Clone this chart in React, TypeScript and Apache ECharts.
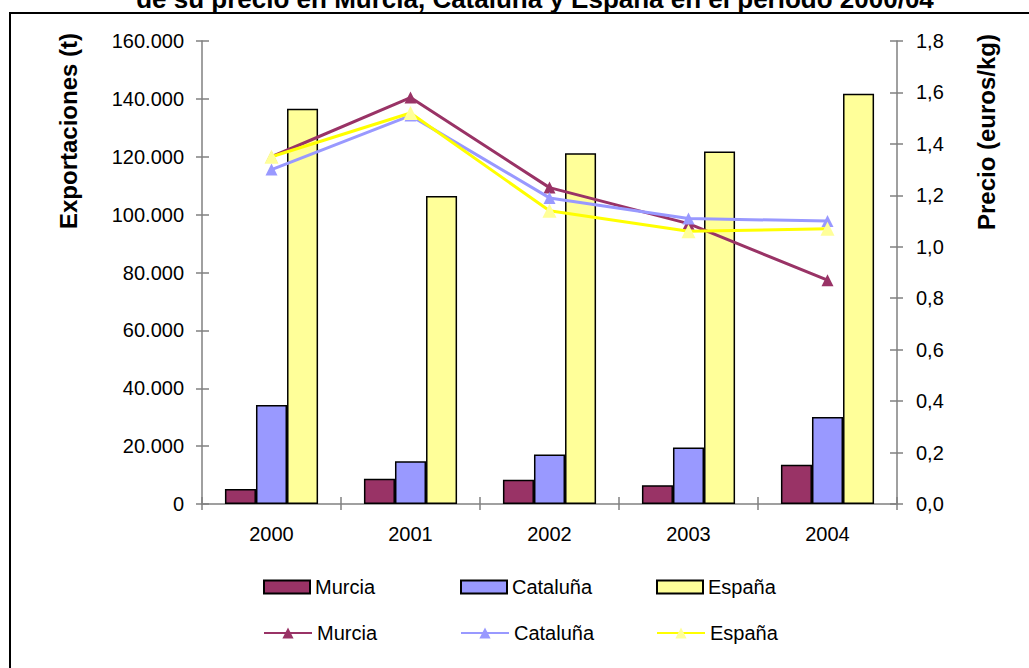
import React, { useEffect, useRef } from "react";
import * as echarts from "echarts";

const years = ["2000", "2001", "2002", "2003", "2004"];
const murciaExport = [5200, 8700, 8400, 6500, 13600];
const catalunaExport = [34200, 14800, 17100, 19500, 30100];
const espanaExport = [136600, 106400, 121200, 121800, 141800];
const murciaPrice = [1.35, 1.58, 1.23, 1.09, 0.87];
const catalunaPrice = [1.3, 1.51, 1.19, 1.11, 1.1];
const espanaPrice = [1.35, 1.52, 1.14, 1.06, 1.07];
const regionNames = ["Murcia", "Cataluña", "España"];
const titleText = "de su precio en Murcia, Cataluña y España en el periodo 2000/04";
const leftAxisName = "Exportaciones (t)";
const rightAxisName = "Precio (euros/kg)";

const FONT = "'Liberation Sans', Arial, sans-serif";
const barColors = ["#993366", "#9999FF", "#FFFF99"];
const lineColors = ["#993366", "#9999FF", "#FFFF00"];
const markerColors = ["#993366", "#9999FF", "#FFFF99"];
const AXIS_COLOR = "#808080";

const fmtThousands = (v: number) =>
  String(Math.round(v)).replace(/\B(?=(\d{3})+(?!\d))/g, ".");
const fmtDecimal = (v: number) => v.toFixed(1).replace(".", ",");

export default function App() {
  const ref = useRef<HTMLDivElement>(null);
  useEffect(() => {
    document.body.style.margin = "0";
    if (!ref.current) return;
    const chart = echarts.init(ref.current, undefined, { renderer: "svg" });
    const exports = [murciaExport, catalunaExport, espanaExport];
    const prices = [murciaPrice, catalunaPrice, espanaPrice];

    const barSeries = regionNames.map((n, i) => ({
      type: "bar",
      name: n,
      xAxisIndex: 0,
      yAxisIndex: 0,
      data: exports[i],
      barGap: "0%",
      barCategoryGap: "33%",
      itemStyle: { color: barColors[i], borderColor: "#000", borderWidth: 1.5 },
    }));
    const lineSeries = regionNames.map((n, i) => ({
      type: "line",
      name: n + "|p",
      xAxisIndex: 0,
      yAxisIndex: 1,
      data: prices[i],
      symbol: "triangle",
      symbolSize: i === 2 ? 14 : 12,
      lineStyle: { color: lineColors[i], width: 3 },
      itemStyle: { color: markerColors[i] },
      z: 5 + i,
    }));

    const legendX = [258, 455, 651];
    const legends: any[] = [];
    regionNames.forEach((n, i) => {
      legends.push({
        data: [n],
        left: legendX[i],
        top: 572,
        icon: "rect",
        itemWidth: 46,
        itemHeight: 13,
        itemGap: 0,
        selectedMode: false,
        textStyle: { fontSize: 20, color: "#000", fontFamily: FONT },
      });
      legends.push({
        data: [n + "|p"],
        left: legendX[i],
        top: 618,
        itemWidth: 48,
        itemHeight: 14,
        itemGap: 0,
        selectedMode: false,
        formatter: (name: string) => name.split("|")[0],
        textStyle: { fontSize: 20, color: "#000", fontFamily: FONT },
      });
    });

    const valueAxisBase = {
      type: "value",
      splitLine: { show: false },
    };

    chart.setOption({
      animation: false,
      backgroundColor: "#fff",
      textStyle: { fontFamily: FONT },
      grid: { left: 202, top: 41, width: 695, height: 463, containLabel: false },
      xAxis: [
        {
          type: "category",
          data: years,
          axisLine: { lineStyle: { color: AXIS_COLOR, width: 1.5 } },
          axisTick: { show: true, inside: false, length: 6, lineStyle: { color: AXIS_COLOR, width: 1.5 } },
          axisLabel: { fontSize: 20, color: "#000", margin: 20, fontFamily: FONT },
        },
        {
          type: "category",
          data: years,
          position: "bottom",
          axisLine: { show: false },
          axisTick: { show: true, inside: true, length: 7, lineStyle: { color: AXIS_COLOR, width: 1.5 } },
          axisLabel: { show: false },
        },
      ],
      yAxis: [
        {
          ...valueAxisBase,
          position: "left",
          min: 0,
          max: 160000,
          interval: 20000,
          axisLine: { show: true, lineStyle: { color: AXIS_COLOR, width: 1.5 } },
          axisTick: { show: true, inside: false, length: 6, lineStyle: { color: AXIS_COLOR, width: 1.5 } },
          axisLabel: { fontSize: 20, color: "#000", margin: 18, fontFamily: FONT, formatter: fmtThousands },
        },
        {
          ...valueAxisBase,
          position: "right",
          min: 0,
          max: 1.8,
          interval: 0.2,
          axisLine: { show: true, lineStyle: { color: AXIS_COLOR, width: 1.5 } },
          axisTick: { show: true, inside: false, length: 6, lineStyle: { color: AXIS_COLOR, width: 1.5 } },
          axisLabel: { fontSize: 20, color: "#000", margin: 19, fontFamily: FONT, formatter: fmtDecimal },
        },
        {
          ...valueAxisBase,
          position: "left",
          min: 0,
          max: 160000,
          interval: 20000,
          axisLine: { show: false },
          axisTick: { show: true, inside: true, length: 7, lineStyle: { color: AXIS_COLOR, width: 1.5 } },
          axisLabel: { show: false },
        },
        {
          ...valueAxisBase,
          position: "right",
          min: 0,
          max: 1.8,
          interval: 0.2,
          axisLine: { show: false },
          axisTick: { show: true, inside: true, length: 7, lineStyle: { color: AXIS_COLOR, width: 1.5 } },
          axisLabel: { show: false },
        },
      ],
      legend: legends,
      series: [...barSeries, ...lineSeries],
      graphic: [
        {
          type: "rect",
          shape: { x: 10, y: 13, width: 1100, height: 800 },
          style: { fill: "none", stroke: "#000", lineWidth: 2 },
          silent: true,
          z: 100,
        },
        {
          type: "text",
          x: 535,
          y: -1,
          style: {
            text: titleText,
            fontSize: 26,
            fontWeight: "bold",
            fontFamily: FONT,
            fill: "#000",
            align: "center",
            verticalAlign: "middle",
          },
        },
        {
          type: "text",
          x: 68,
          y: 131,
          rotation: Math.PI / 2,
          style: {
            text: leftAxisName,
            fontSize: 24,
            fontWeight: "bold",
            fontFamily: FONT,
            fill: "#000",
            align: "center",
            verticalAlign: "middle",
          },
        },
        {
          type: "text",
          x: 986,
          y: 132,
          rotation: Math.PI / 2,
          style: {
            text: rightAxisName,
            fontSize: 24,
            fontWeight: "bold",
            fontFamily: FONT,
            fill: "#000",
            align: "center",
            verticalAlign: "middle",
          },
        },
      ],
    });
    return () => chart.dispose();
  }, []);
  return <div ref={ref} style={{ width: 1029, height: 668 }} />;
}
